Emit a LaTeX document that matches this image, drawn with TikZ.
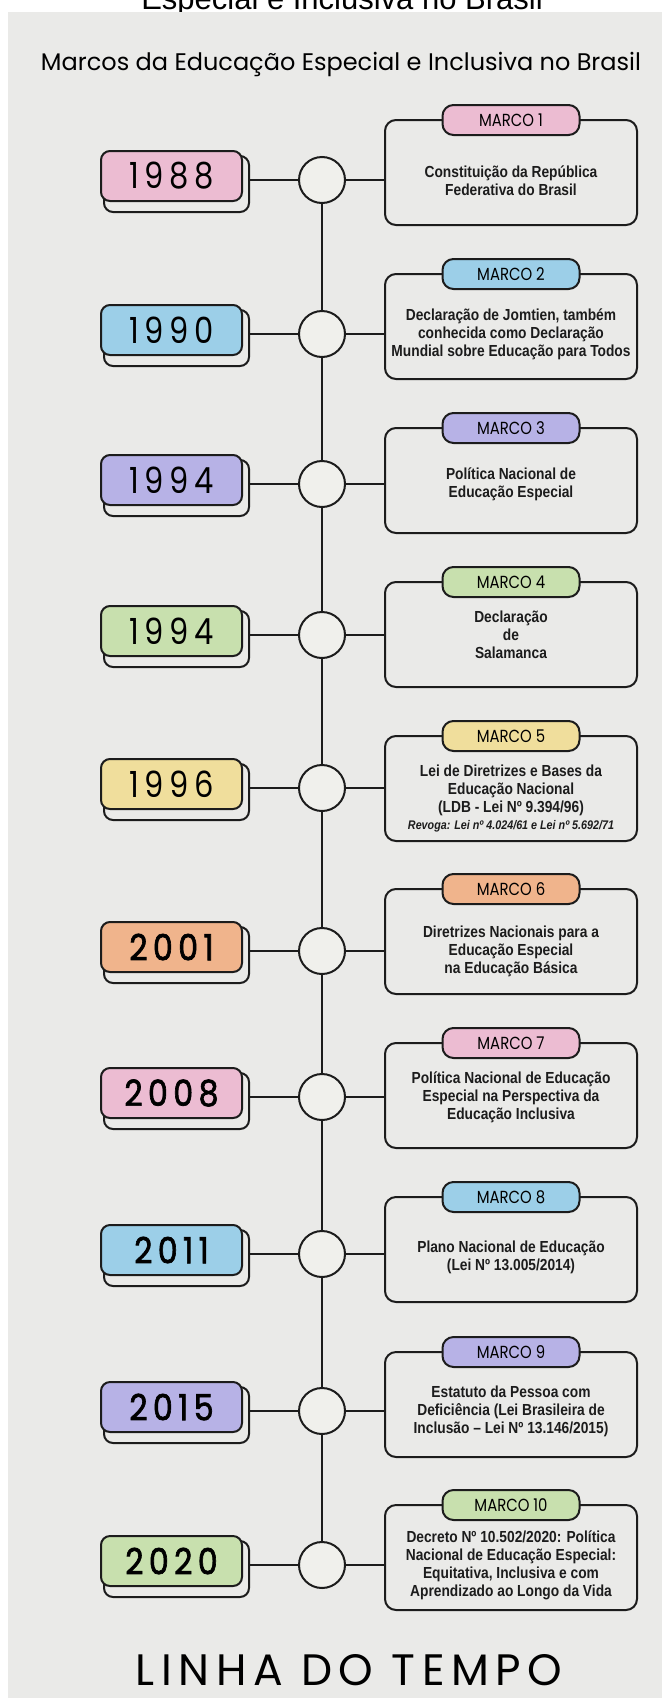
\documentclass[tikz,border=0pt]{standalone}
\usepackage{fontspec}
\newfontfamily\handf{Poppins}[FakeStretch=0.85]
\newfontfamily\yearf{Poppins}[FakeStretch=0.85,LetterSpace=15]
\newfontfamily\yearbf{Poppins}[FakeStretch=0.88,LetterSpace=15,FakeBold=1.8]
\newfontfamily\titlef{Poppins}
\newfontfamily\bigf{Poppins}[LetterSpace=15]
\newfontfamily\bodyf{Liberation Sans}[FakeStretch=0.86]
\newfontfamily\arialf{Liberation Sans}
\definecolor{paper}{RGB}{234,234,232}
\definecolor{ink}{RGB}{28,28,28}
\definecolor{cpink}{RGB}{236,188,210}
\definecolor{cblue}{RGB}{156,207,232}
\definecolor{cpurple}{RGB}{183,178,230}
\definecolor{cgreen}{RGB}{200,224,174}
\definecolor{cyellow}{RGB}{240,222,156}
\definecolor{corange}{RGB}{240,180,140}
\definecolor{dotfill}{RGB}{240,240,236}
\tikzset{
  yearbox/.style={draw=ink, line width=2pt, rounded corners=9pt, minimum width=141pt, minimum height=50pt, inner sep=0pt, text=black, font=\yearf\fontsize{36}{38}\selectfont},
  shadowbox/.style={draw=ink, line width=2pt, rounded corners=9pt, fill=paper, minimum width=145pt, minimum height=56pt, inner sep=0pt},
  dotnode/.style={circle, draw=ink, line width=2pt, fill=dotfill, minimum size=46pt, inner sep=0pt},
  infobox/.style={draw=ink, line width=2pt, rounded corners=11pt, minimum width=252pt, minimum height=105pt, inner sep=0pt},
  pill/.style={draw=ink, line width=2pt, rounded corners=11pt, minimum width=137pt, minimum height=30pt, inner sep=0pt, text=black, font=\handf\fontsize{17.5}{19}\selectfont},
  infotext/.style={align=center, text=ink, font=\bodyf\bfseries\fontsize{16}{18}\selectfont},
  link/.style={draw=ink, line width=2pt},
}
% #1 id, #2 circle y, #3 box top, #4 colour, #5 year, #6 marco label, #7 text, #8 text y
\newcommand\milestone[8]{%
  \node[shadowbox] (sh#1) at (176.5,#2+4) {};
  \node[yearbox, fill=#4] (yr#1) at (171.5,#2-4) {#5};
  \node[dotnode] (dt#1) at (322,#2) {};
  \node[infobox] (ib#1) at (511,#3+52.5) {};
  \node[pill, fill=#4] (pl#1) at (511,#3) {#6};
  \node[infotext] (tx#1) at (511,#8) {#7};
  \draw[link] (sh#1.east |- dt#1) -- (dt#1.west);
  \draw[link] (dt#1.east) -- (ib#1.west |- dt#1);
}
\begin{document}
\begin{tikzpicture}[x=1pt,y=-1pt]
\useasboundingbox (0,0) rectangle (662,1708);
\fill[white] (0,0) rectangle (662,1708);
\node[anchor=base, font=\arialf\fontsize{31}{33}\selectfont, text=black] (toptitle) at (342,9) {Especial e Inclusiva no Brasil};
\fill[paper] (8,12) rectangle (662,1698);
\node[font=\titlef\fontsize{24}{26}\selectfont, text=black] (title) at (341,64) {Marcos da Educação Especial e Inclusiva no Brasil};

\milestone{1}{180}{120}{cpink}{1988}{MARCO 1}{Constituição da República\\Federativa do Brasil}{181}
\milestone{2}{334}{274}{cblue}{1990}{MARCO 2}{Declaração de Jomtien, também\\conhecida como Declaração\\Mundial sobre Educação para Todos}{334}
\milestone{3}{484}{428}{cpurple}{1994}{MARCO 3}{Política Nacional de\\Educação Especial}{484}
\milestone{4}{635}{582}{cgreen}{1994}{MARCO 4}{Declaração\\de\\Salamanca}{635}
\milestone{5}{788}{736}{cyellow}{1996}{MARCO 5}{Lei de Diretrizes e Bases da\\Educação Nacional\\(LDB - Lei Nº 9.394/96)\\[-1pt]{\itshape\fontsize{12.5}{14}\selectfont Revoga: Lei nº 4.024/61 e Lei nº 5.692/71}}{798}
\milestone{6}{951}{889}{corange}{\yearbf 2001}{MARCO 6}{Diretrizes Nacionais para a\\Educação Especial\\na Educação Básica}{951}
\milestone{7}{1097}{1043}{cpink}{\yearbf 2008}{MARCO 7}{Política Nacional de Educação\\Especial na Perspectiva da\\Educação Inclusiva}{1097}
\milestone{8}{1254}{1197}{cblue}{\yearbf 2011}{MARCO 8}{Plano Nacional de Educação\\(Lei Nº 13.005/2014)}{1257}
\milestone{9}{1411}{1352}{cpurple}{\yearbf 2015}{MARCO 9}{Estatuto da Pessoa com\\Deficiência (Lei Brasileira de\\Inclusão – Lei Nº 13.146/2015)}{1411}
\milestone{10}{1565}{1505}{cgreen}{\yearbf 2020}{MARCO 10}{Decreto Nº 10.502/2020: Política\\Nacional de Educação Especial:\\Equitativa, Inclusiva e com\\Aprendizado ao Longo da Vida}{1565}

\foreach \a/\b in {1/2,2/3,3/4,4/5,5/6,6/7,7/8,8/9,9/10}{
  \draw[link] (dt\a.south) -- (dt\b.north);
}
\node[font=\bigf\fontsize{44}{46}\selectfont, text=black] (bottomtitle) at (349,1670) {LINHA DO TEMPO};
\end{tikzpicture}
\end{document}
